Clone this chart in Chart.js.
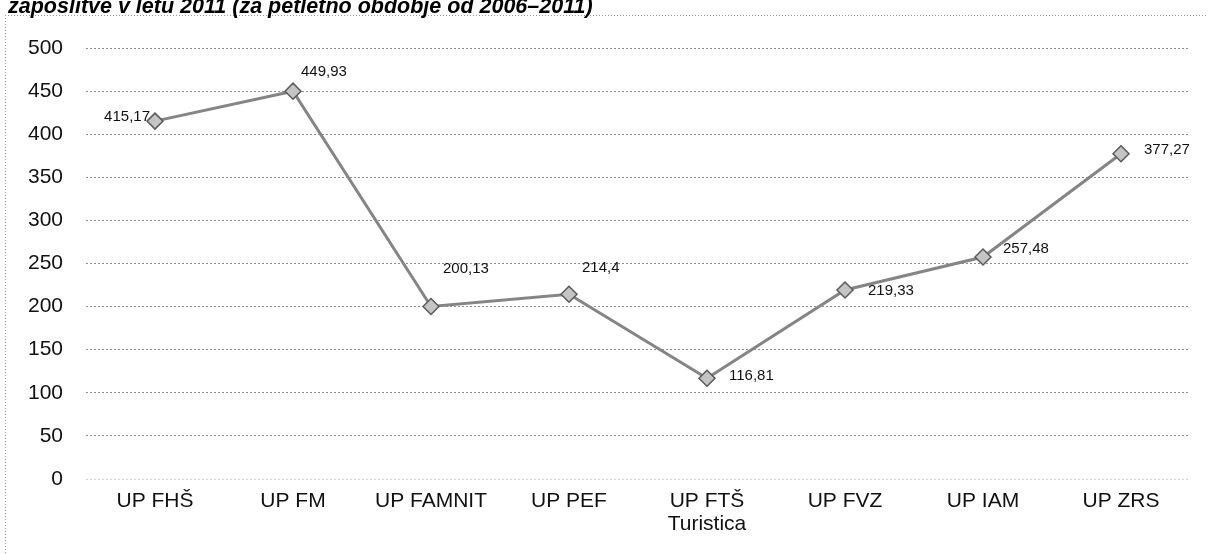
<!DOCTYPE html>
<html>
<head>
<meta charset="utf-8">
<script src="https://cdn.jsdelivr.net/npm/chart.js@4.4.1/dist/chart.umd.min.js"></script>
<style>
  html, body { margin: 0; padding: 0; background: #fff; }
  #wrap { position: relative; width: 1208px; height: 554px; }
</style>
</head>
<body>
<div id="wrap"><canvas id="c" width="1208" height="554"></canvas></div>
<script>
const titleText = 'zaposlitve v letu 2011 (za petletno obdobje od 2006–2011)';
const categories = ['UP FHŠ', 'UP FM', 'UP FAMNIT', 'UP PEF', ['UP FTŠ', 'Turistica'], 'UP FVZ', 'UP IAM', 'UP ZRS'];
const values = [415.17, 449.93, 200.13, 214.4, 116.81, 219.33, 257.48, 377.27];
const yTicks = [0, 50, 100, 150, 200, 250, 300, 350, 400, 450, 500];

// label placement relative to each point: [dx, dy, align]
const labelOffsets = [[-5, -4, 'right'], [8, -19, 'left'], [12, -38, 'left'], [13, -26, 'left'],
                      [22, -2, 'left'], [23, 1, 'left'], [20, -8, 'left'], [23, -4, 'left']];

const FONT = '"Liberation Sans", Arial, sans-serif';

const framePlugin = {
  id: 'frame',
  beforeDraw(chart) {
    const ctx = chart.ctx;
    ctx.save();
    ctx.fillStyle = '#fff';
    ctx.fillRect(0, 0, chart.width, chart.height);
    ctx.strokeStyle = '#9a9a9a';
    ctx.lineWidth = 1;
    ctx.setLineDash([1, 2]);
    ctx.beginPath();
    ctx.moveTo(5, 15.5); ctx.lineTo(chart.width, 15.5);
    ctx.moveTo(5.5, 15); ctx.lineTo(5.5, chart.height);
    ctx.stroke();
    ctx.setLineDash([]);
    ctx.fillStyle = '#000';
    ctx.font = 'italic bold 21.5px ' + FONT;
    ctx.textAlign = 'left';
    ctx.textBaseline = 'alphabetic';
    ctx.fillText(titleText, 8, 12.5);
    ctx.restore();
  }
};

const labelPlugin = {
  id: 'pointLabels',
  afterDatasetsDraw(chart) {
    const ctx = chart.ctx;
    const meta = chart.getDatasetMeta(0);
    ctx.save();
    ctx.font = '15px ' + FONT;
    ctx.fillStyle = '#111';
    ctx.textBaseline = 'middle';
    meta.data.forEach((pt, i) => {
      const off = labelOffsets[i];
      ctx.textAlign = off[2];
      const txt = String(values[i]).replace('.', ',');
      ctx.fillText(txt, pt.x + off[0], pt.y + off[1]);
    });
    ctx.restore();
  }
};

new Chart(document.getElementById('c'), {
  type: 'line',
  data: {
    labels: categories,
    datasets: [{
      data: values,
      borderColor: '#858585',
      borderWidth: 3,
      pointStyle: 'rectRot',
      pointRadius: 8,
      pointHoverRadius: 8,
      pointBackgroundColor: '#c4c4c4',
      pointBorderColor: '#5a5a5a',
      pointBorderWidth: 1.5,
      tension: 0,
      fill: false
    }]
  },
  options: {
    responsive: false,
    animation: false,
    devicePixelRatio: 1,
    layout: { padding: { top: 48, right: 18, bottom: 0, left: 0 } },
    plugins: {
      legend: { display: false },
      tooltip: { enabled: false },
      title: { display: false }
    },
    scales: {
      x: {
        offset: true,
        grid: { display: false },
        border: { display: false },
        ticks: {
          color: '#111',
          font: { size: 21, family: FONT, lineHeight: 1.1 },
          padding: 3,
          maxRotation: 0,
          autoSkip: false
        },
        afterFit(scale) { scale.height = 75; }
      },
      y: {
        min: 0,
        max: 500,
        afterBuildTicks(scale) { scale.ticks = yTicks.map(v => ({ value: v })); },
        grid: {
          color: ctx => ctx.tick && ctx.tick.value === 0 ? 'rgba(0,0,0,0.18)' : '#8f8f8f',
          lineWidth: 1,
          drawTicks: false
        },
        border: { display: false, dash: [2, 2] },
        ticks: {
          color: '#111',
          font: { size: 21, family: FONT },
          padding: 23
        },
        afterFit(scale) { scale.width = 86; }
      }
    }
  },
  plugins: [framePlugin, labelPlugin]
});
</script>
</body>
</html>
